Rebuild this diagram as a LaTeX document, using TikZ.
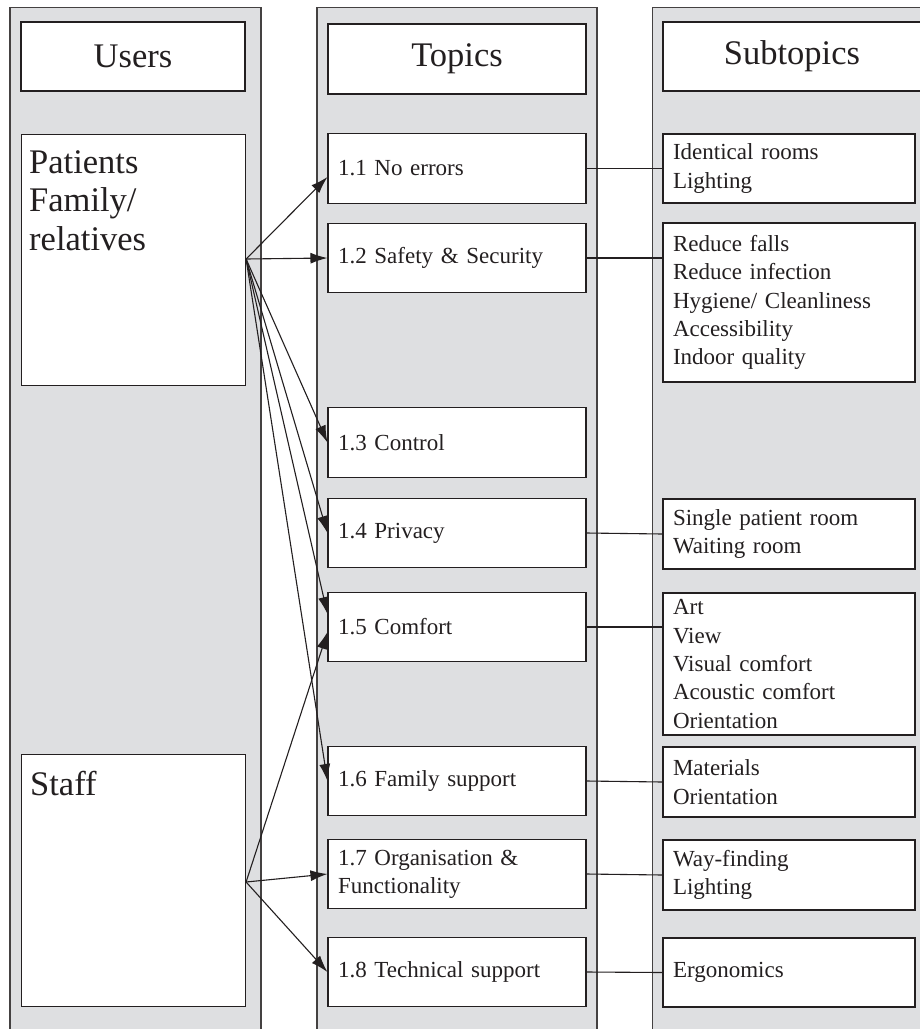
\documentclass[tikz,border=0pt]{standalone}
\usepackage{fontspec}
\setmainfont{Liberation Serif}
\usetikzlibrary{arrows.meta,calc}
\definecolor{colgray}{RGB}{222,223,225}
\definecolor{ink}{RGB}{35,31,32}
\newcommand{\bigtxt}{\fontsize{34.5}{38.5}\selectfont}
\newcommand{\smalltxt}{\fontsize{23}{28.3}\selectfont}
\begin{document}
\begin{tikzpicture}[x=1pt,y=-1pt,
  col/.style={draw=ink!85, fill=colgray, line width=1.1pt},
  box/.style={draw=ink, fill=white, line width=1.1pt, rectangle, inner sep=0pt, text=ink},
  header/.style={box, font=\bigtxt},
  topic/.style={box, font=\smalltxt, minimum width=258, minimum height=69.5, text width=238, align=left},
  sub/.style={box, font=\smalltxt, minimum width=252, text width=232, align=left},
  lbl/.style={inner sep=0pt, font=\bigtxt, text=ink, align=left, anchor=base west},
  link/.style={draw=ink, line width=1.1pt},
  arr/.style={draw=ink, line width=1.1pt, -{Latex[length=17pt,width=11pt]}}]
\useasboundingbox (0,0) rectangle (920,1029);
\fill[white] (0,0) rectangle (920,1029);
% columns
\draw[col] (10,7.5) rectangle (261,1060);
\draw[col] (317,7.5) rectangle (597,1060);
\draw[col] (652.5,7.5) rectangle (960,1060);
% headers
\node[header, minimum width=224, minimum height=69] (users) at (133,56.5) {Users};
\node[header, minimum width=258, minimum height=70] (topics) at (457,59) {Topics};
\node[header, minimum width=258, minimum height=69] (subtopics) at (792,56.5) {Subtopics};
% user boxes
\node[box, minimum width=224, minimum height=251, anchor=north west] (pat) at (21,134) {};
\node[lbl] (pattxt) at (29,250) {Patients\\Family/\\relatives};
\node[box, minimum width=224, minimum height=252, anchor=north west] (staff) at (21,754) {};
\node[lbl] (stafftxt) at (30,795) {Staff};
% topics
\node[topic] (t1) at (457,168.5) {1.1 No errors};
\node[topic] (t2) at (457,258) {1.2 Safety \& Security};
\node[topic] (t3) at (457,442.5) {1.3 Control};
\node[topic] (t4) at (457,533) {1.4 Privacy};
\node[topic] (t5) at (457,627) {1.5 Comfort};
\node[topic] (t6) at (457,781) {1.6 Family support};
\node[topic] (t7) at (457,874) {1.7 Organisation \&\\Functionality};
\node[topic] (t8) at (457,972) {1.8 Technical support};
% subtopics
\node[sub, minimum height=69] (s1) at (789,168.5) {Identical rooms\\Lighting};
\node[sub, minimum height=159] (s2) at (789,302.5) {Reduce falls\\Reduce infection\\Hygiene/ Cleanliness\\Accessibility\\Indoor quality};
\node[sub, minimum height=70] (s4) at (789,534) {Single patient room\\Waiting room};
\node[sub, minimum height=142] (s5) at (789,664) {Art\\View\\Visual comfort\\Acoustic comfort\\Orientation};
\node[sub, minimum height=70] (s6) at (789,782) {Materials\\Orientation};
\node[sub, minimum height=70] (s7) at (789,875) {Way-finding\\Lighting};
\node[sub, minimum height=69] (s8) at (789,972.5) {Ergonomics};
% topic -> subtopic links
\draw[link] (t1.east) -- (s1.west |- t1.east);
\draw[link] (t2.east) -- (s2.west |- t2.east);
\draw[link] (t4.east) -- (s4.west);
\draw[link] (t5.east) -- (s5.west |- t5.east);
\draw[link] (t6.east) -- (s6.west);
\draw[link] (t7.east) -- (s7.west);
\draw[link] (t8.east) -- (s8.west);
% sources
\coordinate (ps) at ($(pat.north east)+(0,125)$);
\coordinate (ss) at ($(staff.north east)+(0,128)$);
% arrows
\draw[arr] (ps) -- ($(t1.west)+(0,8.5)$);
\draw[arr] (ps) -- (t2.west);
\draw[arr] (ps) -- (t3.west);
\draw[arr] (ps) -- (t4.west);
\draw[arr] (ps) -- ($(t5.west)+(0,-13)$);
\draw[arr] (ps) -- (t6.west);
\draw[arr] (ss) -- ($(t5.west)+(0,5)$);
\draw[arr] (ss) -- (t7.west);
\draw[arr] (ss) -- (t8.west);
\end{tikzpicture}
\end{document}
